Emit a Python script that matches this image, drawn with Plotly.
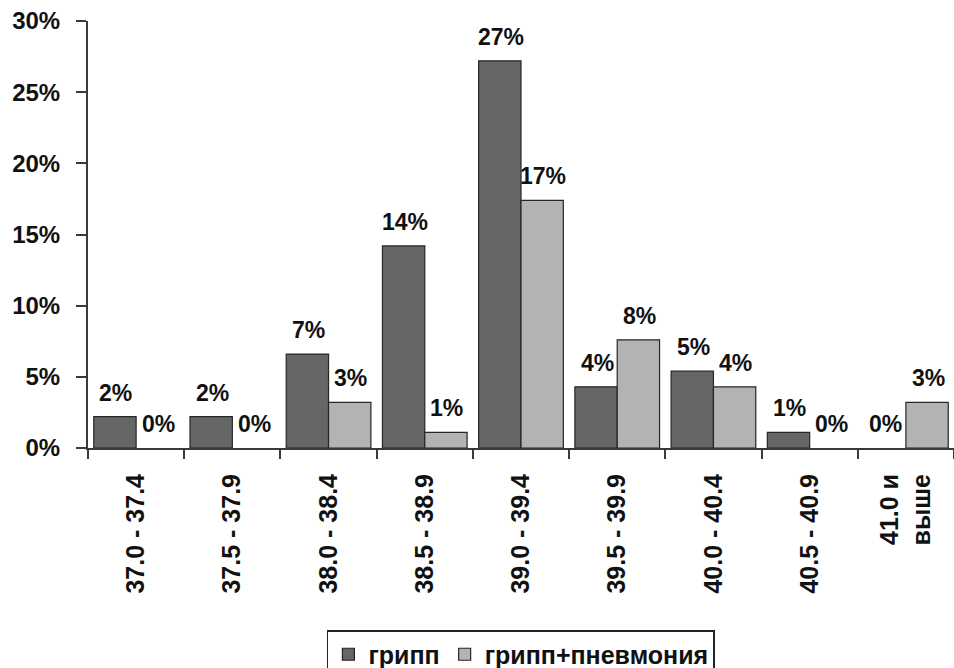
import plotly.graph_objects as go

categories = ["37.0 - 37.4", "37.5 - 37.9", "38.0 - 38.4", "38.5 - 38.9", "39.0 - 39.4",
              "39.5 - 39.9", "40.0 - 40.4", "40.5 - 40.9", "41.0 и<br>выше"]
flu = [2.2, 2.2, 6.6, 14.2, 27.2, 4.3, 5.4, 1.1, 0.0]
flu_pneumonia = [0.0, 0.0, 3.2, 1.1, 17.4, 7.6, 4.3, 0.0, 3.2]
series_names = ["грипп", "грипп+пневмония"]
y_ticks = [0, 5, 10, 15, 20, 25, 30]

FONT = "Liberation Sans, Arial, sans-serif"
W, H = 954, 668
ML, MR, MT, MB = 88, 0, 21, 220
BARGAP = 0.12

fig = go.Figure()
for name, vals, color in ((series_names[0], flu, "#666666"),
                          (series_names[1], flu_pneumonia, "#b3b3b3")):
    fig.add_trace(go.Bar(name=f"<b>{name}</b>", x=categories,
                         y=[v if v > 0 else None for v in vals],
                         marker=dict(color=color, line=dict(color="#262626", width=1.2))))

# data labels above each bar
cat_w = (W - ML - MR) / len(categories)
bar_w = cat_w * (1 - BARGAP) / 2
for vals, sign in ((flu, -1), (flu_pneumonia, 1)):
    for c, v in zip(categories, vals):
        fig.add_annotation(x=c, y=v, text=f"<b>{int(v + 0.5)}%</b>", showarrow=False,
                           xref="x", yref="y", yanchor="bottom",
                           xshift=sign * bar_w / 2 + 1, yshift=9,
                           font=dict(family=FONT, size=23, color="#111111"))

fig.update_layout(
    width=W, height=H,
    margin=dict(l=ML, r=MR, t=MT, b=MB, pad=0, autoexpand=False),
    paper_bgcolor="white", plot_bgcolor="white",
    barmode="group", bargap=BARGAP, bargroupgap=0,
    font=dict(family=FONT, size=24, color="#111111"),
    showlegend=True,
    legend=dict(orientation="h", xref="container", yref="container",
                x=0.546, xanchor="center", y=1 - 630 / H, yanchor="top",
                bordercolor="#222222", borderwidth=1.5, bgcolor="white",
                font=dict(family=FONT, size=25, color="#111111"),
                traceorder="normal"),
)
fig.update_yaxes(range=[0, 30], tickvals=y_ticks, ticktext=[f"<b>{t}%</b>" for t in y_ticks],
                 showgrid=False, zeroline=False, showline=True, linecolor="#3a3a3a", linewidth=2,
                 ticks="outside", ticklen=10, tickwidth=2, tickcolor="#3a3a3a",
                 ticklabelstandoff=11, tickfont=dict(family=FONT, size=24, color="#111111"))
fig.update_xaxes(range=[-0.5, len(categories) - 0.5], tickvals=categories,
                 ticktext=[f"<b>{c}</b>" for c in categories], tickangle=-90,
                 showgrid=False, zeroline=False, showline=True, linecolor="#3a3a3a", linewidth=2,
                 ticks="outside", tickson="boundaries", ticklen=9, tickwidth=2, tickcolor="#3a3a3a",
                 ticklabelstandoff=14, tickfont=dict(family=FONT, size=25, color="#111111"))

fig.write_html("out.html")
